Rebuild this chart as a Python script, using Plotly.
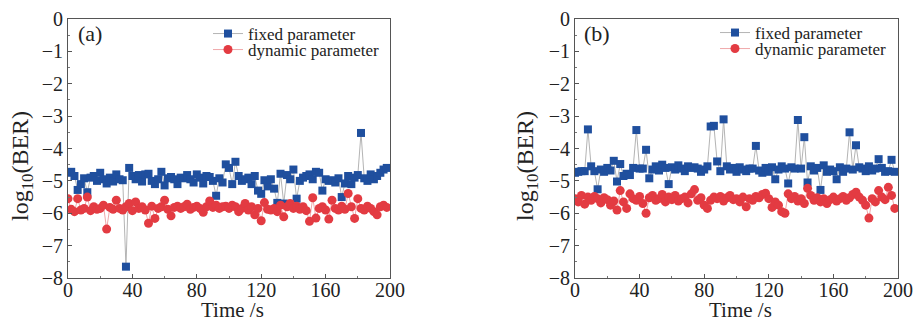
import plotly.graph_objects as go

time_s = list(range(0, 200, 2))

a_fixed = [-4.75, -4.72, -4.85, -5.28, -5.10, -4.92, -5.35, -4.90, -4.85, -5.00,
           -4.75, -4.95, -5.08, -4.90, -5.02, -4.80, -4.95, -4.98, -7.65, -4.60,
           -4.85, -4.95, -4.82, -5.02, -4.80, -4.78, -5.00, -5.10, -4.95, -4.72,
           -5.14, -4.92, -4.88, -4.95, -5.10, -4.90, -4.92, -4.82, -4.95, -5.05,
           -4.80, -4.90, -5.08, -4.85, -4.88, -5.00, -5.46, -4.92, -5.05, -4.49,
           -4.60, -5.10, -4.41, -4.85, -5.00, -4.95, -4.90, -5.10, -4.85, -5.30,
           -5.40, -4.98, -5.17, -4.95, -5.24, -5.68, -4.78, -5.70, -4.82, -4.95,
           -4.65, -5.55, -5.00, -4.90, -4.85, -4.80, -4.95, -4.72, -4.75, -5.30,
           -4.95, -5.00, -4.98, -5.05, -4.92, -5.50, -5.08, -4.85, -5.10, -4.90,
           -4.82, -3.52, -4.92, -5.00, -4.80, -4.95, -4.85, -4.75, -4.65, -4.60]

a_dynamic = [-5.55, -5.88, -5.95, -5.55, -5.90, -5.85, -5.50, -5.92, -5.80, -5.88,
             -5.85, -5.75, -6.49, -5.82, -5.88, -5.60, -5.85, -5.90, -5.80, -5.70,
             -5.92, -5.65, -5.85, -5.80, -5.90, -6.31, -5.78, -6.16, -5.85, -5.80,
             -5.60, -5.88, -6.08, -5.82, -5.78, -5.85, -5.80, -5.72, -5.88, -5.82,
             -5.78, -5.85, -5.97, -5.80, -5.62, -5.82, -5.75, -5.85, -5.80, -5.78,
             -5.85, -5.75, -5.80, -5.95, -5.85, -5.70, -5.90, -5.80, -6.05, -5.85,
             -6.23, -5.67, -5.88, -5.90, -5.85, -5.95, -5.75, -6.11, -5.80, -5.70,
             -5.85, -5.78, -5.88, -5.80, -5.92, -6.25, -5.52, -6.15, -5.85, -5.80,
             -5.90, -6.18, -5.60, -5.85, -5.90, -5.78, -5.88, -5.39, -5.80, -6.16,
             -5.55, -5.85, -5.90, -5.78, -5.85, -5.95, -6.05, -5.80, -5.75, -5.82]

b_fixed = [-4.75, -4.72, -4.70, -4.70, -3.41, -4.55, -4.70, -5.26, -4.65, -4.72,
           -4.60, -4.68, -4.38, -5.02, -4.48, -4.85, -4.78, -4.82, -4.60, -3.43,
           -4.62, -4.62, -4.04, -4.92, -4.65, -4.55, -4.68, -4.50, -4.60, -5.10,
           -4.58, -4.65, -4.52, -4.62, -4.70, -4.55, -4.60, -4.58, -4.62, -4.72,
           -4.65, -4.55, -3.32, -3.30, -4.40, -4.70, -3.10, -4.55, -4.65, -4.60,
           -4.72, -4.58, -4.65, -4.70, -4.62, -4.62, -3.92, -4.68, -4.75, -4.60,
           -4.72, -4.58, -4.95, -4.65, -4.55, -4.62, -5.08, -4.58, -4.62, -3.12,
           -4.62, -3.65, -5.05, -4.55, -4.68, -4.60, -5.28, -4.52, -4.72, -4.65,
           -4.70, -4.95, -4.58, -4.72, -4.62, -3.50, -4.65, -3.90, -4.58, -4.62,
           -4.70, -4.55, -4.68, -4.62, -4.33, -4.60, -4.72, -4.70, -4.35, -4.72]

b_dynamic = [-5.55, -5.65, -5.45, -5.72, -5.50, -5.60, -5.48, -5.55, -5.68, -5.52,
             -5.58, -5.75, -5.62, -5.90, -5.30, -5.65, -5.85, -5.40, -5.55, -5.60,
             -5.48, -5.70, -6.00, -5.52, -5.45, -5.60, -5.55, -5.42, -5.65, -5.50,
             -5.58, -5.45, -5.62, -5.55, -5.50, -5.68, -5.40, -5.27, -5.60, -5.52,
             -5.75, -5.85, -5.60, -5.50, -5.55, -5.48, -5.62, -5.52, -5.45, -5.58,
             -5.55, -5.65, -5.50, -5.80, -5.55, -5.60, -5.48, -5.52, -5.42, -5.38,
             -5.55, -5.82, -5.65, -5.75, -5.95, -6.00, -5.40, -5.55, -5.48, -5.62,
             -5.55, -5.70, -5.23, -5.45, -5.60, -5.52, -5.65, -5.55, -5.70, -5.58,
             -5.50, -5.62, -5.55, -5.48, -5.60, -5.52, -5.42, -5.35, -5.50, -5.60,
             -5.75, -6.15, -5.55, -5.65, -5.30, -5.50, -5.58, -5.20, -5.45, -5.85]

x_ticks = [0, 40, 80, 120, 160, 200]
y_ticks = [0, -1, -2, -3, -4, -5, -6, -7, -8]
y_tick_text = ["0", "\u22121", "\u22122", "\u22123", "\u22124", "\u22125", "\u22126", "\u22127", "\u22128"]

BLUE = "#1f4f9e"
RED = "#e33b42"
FONT = "Liberation Serif"
TXT = "#222222"

W, H = 919, 322
top = 1 - 19 / H
bot = 1 - 278 / H
dom_a = [68 / W, 390 / W]
dom_b = [575 / W, 898 / W]

fig = go.Figure()

def add_pair(xa, ya, fixed, dyn, leg_f, leg_d):
    fig.add_trace(go.Scatter(
        x=time_s, y=fixed, mode="lines+markers", name="fixed parameter",
        xaxis=xa, yaxis=ya, legend=leg_f,
        line=dict(color="#b4b4b4", width=1),
        marker=dict(symbol="square", size=8, color=BLUE),
    ))
    fig.add_trace(go.Scatter(
        x=time_s, y=dyn, mode="lines+markers", name="dynamic parameter",
        xaxis=xa, yaxis=ya, legend=leg_d,
        line=dict(color="#f0a8ab", width=1),
        marker=dict(symbol="circle", size=9, color=RED),
    ))

add_pair("x", "y", a_fixed, a_dynamic, "legend", "legend2")
add_pair("x2", "y2", b_fixed, b_dynamic, "legend3", "legend4")

axis_common = dict(
    showline=True, mirror=True, linecolor="#555555", linewidth=1,
    ticks="inside", ticklen=4, tickcolor="#555555", showgrid=False, zeroline=False,
    tickfont=dict(family=FONT, size=20, color=TXT), automargin=False,
)

xa = dict(axis_common, range=[0, 200], tickvals=x_ticks, ticklabelstandoff=-6,
          minor=dict(ticks="inside", ticklen=2, dtick=20, tickcolor="#777777"))
ya = dict(axis_common, range=[-8, 0], tickvals=y_ticks, ticktext=y_tick_text,
          minor=dict(ticks="inside", ticklen=2, dtick=0.5, tickcolor="#777777"))

def leg(xpx, ypx):
    return dict(x=xpx / W, y=1 - ypx / H, xanchor="left", yanchor="middle",
                bgcolor="rgba(0,0,0,0)", font=dict(family=FONT, size=17, color=TXT),
                itemwidth=30, borderwidth=0)

LX_A = 208
LX_B = 715
annotations = [
    dict(text="(a)", x=76 / W, y=1 - 33 / H, xref="paper", yref="paper",
         xanchor="left", yanchor="middle", showarrow=False,
         font=dict(family=FONT, size=22, color=TXT)),
    dict(text="(b)", x=582 / W, y=1 - 33 / H, xref="paper", yref="paper",
         xanchor="left", yanchor="middle", showarrow=False,
         font=dict(family=FONT, size=22, color=TXT)),
]
for cx in [233, 740]:
    annotations.append(dict(text="Time /s", x=cx / W, y=1 - 310 / H, xref="paper", yref="paper",
                            xanchor="center", yanchor="middle", showarrow=False,
                            font=dict(family=FONT, size=21, color=TXT)))
for xpx in [22, 527]:
    annotations.append(dict(text="log<sub>10</sub>(BER)", x=xpx / W, y=1 - 166 / H,
                            xref="paper", yref="paper", textangle=-90,
                            xanchor="center", yanchor="middle", showarrow=False,
                            font=dict(family=FONT, size=24, color=TXT)))

fig.update_layout(
    width=W, height=H,
    margin=dict(l=0, r=0, t=0, b=0, autoexpand=False),
    paper_bgcolor="white", plot_bgcolor="white",
    showlegend=True,
    font=dict(family=FONT, color=TXT),
    xaxis=dict(xa, domain=dom_a, anchor="y"),
    yaxis=dict(ya, domain=[bot, top], anchor="x"),
    xaxis2=dict(xa, domain=dom_b, anchor="y2"),
    yaxis2=dict(ya, domain=[bot, top], anchor="x2"),
    legend=leg(LX_A, 34),
    legend2=leg(LX_A, 50),
    legend3=leg(LX_B, 33),
    legend4=leg(LX_B, 49),
    annotations=annotations,
)

fig.write_html("out.html")
